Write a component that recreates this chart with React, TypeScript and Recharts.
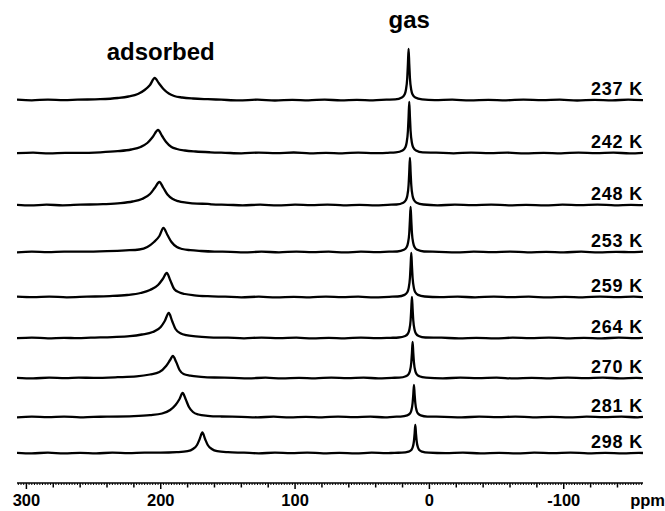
import React from 'react';
import { LineChart, Line, XAxis, YAxis, ReferenceDot } from 'recharts';

type Pt = [number, number];

// temperatures, top to bottom
const tempLabels = ['237 K', '242 K', '248 K', '253 K', '259 K', '264 K', '270 K', '281 K', '298 K'];

// ppm, intensity
const t237: Pt[] = [[307,0.3],[296,-0.3],[284,0.4],[272,-0.2],[262,0.3],[245,0.8],[232,2],[224,3.5],[217,6],[212,10],[208,15],[204.5,22],[201.5,17],[198,11],[194,6.5],[190,4],[184,2.5],[176,1.5],[165,0.8],[155,0.3],[142,-0.4],[128,0.3],[115,-0.5],[102,0.2],[90,-0.3],[78,0.4],[66,-0.4],[54,0.2],[42,-0.3],[32,0.3],[25.5,0.6],[20.5,2.5],[18.5,5.5],[17.5,10],[16.5,22],[16,36],[15.5,51],[15,36],[14.5,22],[13.5,10],[12.5,5.5],[10.5,2.5],[5.5,0.6],[-4,-0.2],[-17,0.3],[-30,-0.4],[-44,0.2],[-57,-0.3],[-70,0.4],[-84,-0.2],[-97,0.3],[-110,-0.5],[-123,0.2],[-136,-0.3],[-148,0.3],[-159,-0.2]];
const t242: Pt[] = [[307,-0.2],[295,0.3],[283,-0.4],[271,0.2],[262,0.2],[245,0.7],[232,1.8],[222,3.5],[215,6],[210,10],[206,16],[202,23],[199,17],[196,11],[192,6],[188,4],[182,2.5],[174,1.5],[163,0.7],[152,0.2],[140,-0.3],[127,0.4],[114,-0.2],[101,0.5],[89,-0.4],[77,0.2],[65,-0.3],[53,0.4],[41,-0.2],[31,0.2],[25,0.6],[20,2.5],[18,5.5],[17,10],[16,22],[15.5,36],[15,51],[14.5,36],[14,22],[13,10],[12,5.5],[10,2.5],[5,0.6],[-5,0.3],[-18,-0.3],[-31,0.4],[-45,-0.2],[-58,0.3],[-71,-0.4],[-85,0.2],[-98,-0.3],[-111,0.4],[-124,-0.2],[-137,0.3],[-149,-0.3],[-159,0.2]];
const t248: Pt[] = [[307,0.2],[297,-0.4],[285,0.3],[273,-0.3],[260,0.3],[243,0.8],[230,1.8],[221,3.5],[214,6],[208,11],[204.5,17],[201,23],[198,17],[195,10.5],[191,6],[187,3.8],[181,2.3],[173,1.3],[165,1.2],[162,0.6],[150,0.2],[139,-0.3],[126,0.3],[113,-0.4],[100,0.3],[88,-0.2],[76,0.4],[64,-0.3],[52,0.2],[40,-0.4],[31,0.2],[24.5,0.5],[19.5,2.3],[17.5,5],[16.5,9],[15.5,20],[15,33],[14.5,47],[14,33],[13.5,20],[12.5,9],[11.5,5],[9.5,2.3],[4.5,0.5],[-6,-0.3],[-19,0.3],[-32,-0.2],[-46,0.4],[-59,-0.3],[-72,0.2],[-86,-0.4],[-99,0.3],[-112,-0.2],[-125,0.4],[-138,-0.3],[-150,0.2],[-159,-0.2]];
const t253: Pt[] = [[307,-0.3],[296,0.3],[284,-0.2],[272,0.4],[258,0.3],[240,0.8],[226,1.6],[216,2.5],[210,5],[205,10],[201,16],[198,24],[195,17],[192,10],[188,5],[184,3],[178,1.8],[170,1],[160,0.4],[148,0.2],[138,-0.4],[125,0.3],[112,-0.3],[99,0.4],[87,-0.2],[75,0.3],[63,-0.4],[51,0.3],[39,-0.2],[30,0.3],[24,0.5],[19,2.2],[17,4.8],[16,8.8],[15,19],[14.5,32],[14,45],[13.5,32],[13,19],[12,8.8],[11,4.8],[9,2.2],[4,0.5],[-7,0.2],[-20,-0.4],[-33,0.3],[-47,-0.2],[-60,0.4],[-73,-0.3],[-87,0.2],[-100,-0.3],[-113,0.3],[-126,-0.4],[-139,0.2],[-151,-0.2],[-159,0.3]];
const t259: Pt[] = [[307,0.3],[295,-0.2],[283,0.4],[270,-0.3],[255,0.3],[238,0.9],[225,2],[215,4],[208,7],[202,12],[198.5,18],[195.5,24],[193,17],[190,8],[186,4.5],[182,3],[175,1.7],[165,0.8],[152,0.3],[140,-0.3],[127,0.3],[114,-0.4],[101,0.2],[89,-0.3],[77,0.4],[65,-0.2],[53,0.3],[41,-0.4],[30,0.2],[23.5,0.5],[18.5,2.1],[16.5,4.7],[15.5,8.6],[14.5,19],[14,31],[13.5,44],[13,31],[12.5,19],[11.5,8.6],[10.5,4.7],[8.5,2.1],[3.5,0.5],[-8,-0.2],[-21,0.3],[-34,-0.3],[-48,0.4],[-61,-0.2],[-74,0.3],[-88,-0.4],[-101,0.2],[-114,-0.3],[-127,0.4],[-140,-0.2],[-152,0.3],[-159,-0.2]];
const t264: Pt[] = [[307,-0.2],[296,0.4],[284,-0.3],[272,0.2],[262,-0.2],[252,0.3],[236,0.9],[223,1.8],[214,3.5],[206,6],[200,11],[197,17],[194,25],[191.5,17],[189,9],[185,4.5],[181,2.8],[174,1.6],[164,0.7],[150,0.3],[138,-0.3],[125,0.4],[112,-0.2],[99,0.3],[87,-0.4],[75,0.2],[63,-0.3],[51,0.4],[39,-0.2],[29,0.2],[23,0.5],[18,2],[16,4.4],[15,8],[14,17.5],[13.5,29],[13,41],[12.5,29],[12,17.5],[11,8],[10,4.4],[8,2],[3,0.5],[-9,0.3],[-22,-0.3],[-35,0.2],[-49,-0.4],[-62,0.3],[-75,-0.2],[-89,0.4],[-102,-0.3],[-115,0.2],[-128,-0.3],[-141,0.3],[-153,-0.2],[-159,0.2]];
const t270: Pt[] = [[307,0.2],[295,-0.3],[283,0.3],[271,-0.2],[261,0.3],[250,0.2],[232,0.8],[218,1.6],[208,3.5],[201,6],[196,12],[193,18],[191,22],[188.5,16],[186,8],[183,4],[178,2.3],[170,1.2],[160,0.5],[146,0.2],[135,-0.3],[122,0.3],[110,-0.4],[97,0.2],[85,-0.3],[73,0.4],[61,-0.2],[49,0.3],[38,-0.3],[28,0.2],[22.5,0.4],[17.5,1.8],[15.5,3.9],[14.5,7],[13.5,15.5],[13,25],[12.5,36],[12,25],[11.5,15.5],[10.5,7],[9.5,3.9],[7.5,1.8],[2.5,0.4],[-10,-0.3],[-23,0.3],[-36,-0.2],[-50,0.3],[-63,-0.4],[-76,0.2],[-90,-0.3],[-103,0.4],[-116,-0.2],[-129,0.3],[-142,-0.3],[-154,0.2],[-159,-0.2]];
const t281: Pt[] = [[307,-0.3],[296,0.3],[284,-0.2],[272,0.4],[260,-0.3],[250,0.2],[240,0.3],[220,0.8],[208,1.8],[199,3.5],[193,7],[189,12],[186,18],[183.7,24],[181.5,18],[179,10],[176,5],[172,2.5],[165,1.2],[155,0.5],[140,0.2],[128,-0.3],[116,0.3],[104,-0.4],[92,0.2],[80,-0.3],[68,0.4],[56,-0.2],[44,0.3],[33,-0.3],[27,0.2],[21.5,0.4],[16.5,1.6],[14.5,3.5],[13.5,6.3],[12.5,14],[12,22.5],[11.5,32],[11,22.5],[10.5,14],[9.5,6.3],[8.5,3.5],[6.5,1.6],[1.5,0.4],[-11,0.2],[-24,-0.3],[-37,0.3],[-51,-0.2],[-64,0.4],[-77,-0.3],[-91,0.2],[-104,-0.4],[-117,0.3],[-130,-0.2],[-143,0.3],[-155,-0.3],[-159,0.2]];
const t298: Pt[] = [[307,0.2],[296,-0.3],[284,0.3],[272,-0.4],[260,0.2],[248,-0.3],[236,0.3],[224,-0.2],[212,0.3],[200,0.3],[188,0.8],[180,1.8],[176,4],[173,8],[171,14],[169,20.5],[167,14],[165,8],[162,4],[158,1.8],[150,0.8],[138,0.3],[127,-0.3],[115,0.3],[103,-0.2],[91,0.4],[79,-0.3],[67,0.2],[55,-0.4],[43,0.3],[32,-0.2],[26,0.2],[20.5,0.3],[15.5,1.4],[13.5,3],[12.5,5.5],[11.5,12],[11,19.5],[10.5,28],[10,19.5],[9.5,12],[8.5,5.5],[7.5,3],[5.5,1.4],[0.5,0.3],[-12,-0.2],[-25,0.3],[-38,-0.3],[-52,0.2],[-65,-0.4],[-78,0.3],[-92,-0.2],[-105,0.4],[-118,-0.3],[-131,0.2],[-144,-0.3],[-156,0.2],[-159,0]];

const spectra = [t237, t242, t248, t253, t259, t264, t270, t281, t298];

// vertical stacking offset of each spectrum
const stackOffsets = [383, 330, 278, 231, 186, 145, 105, 66, 30];

const majorTicks = [300, 200, 100, 0, -100];

const X_MIN = -159;
const X_MAX = 307;
const FONT = '"Liberation Sans", Arial, Helvetica, sans-serif';

const minorTicks: number[] = [];
for (let v = -158; v <= 306; v += 2) minorTicks.push(v);

const PpmTick = (props: any) => {
  const { x, y, payload } = props;
  const v = payload.value;
  const len = v % 100 === 0 ? 6 : v % 20 === 0 ? 4.5 : 2;
  return (
    <g>
      <line x1={x} x2={x} y1={y} y2={y + len} stroke="#000" strokeWidth={len > 2 ? 1.5 : 1} />
      {majorTicks.includes(v) && (
        <text x={x} y={y + 23} textAnchor="middle" fontFamily={FONT} fontWeight="bold" fontSize={16.5} fill="#000">
          {v}
        </text>
      )}
    </g>
  );
};

const textShape = (text: string, size: number, anchor: string, spacing = 0) => (p: any) => (
  <text x={p.cx} y={p.cy} textAnchor={anchor} fontFamily={FONT} fontWeight="bold" fontSize={size} letterSpacing={spacing} fill="#000">
    {text}
  </text>
);

export default function App() {
  return (
    <div style={{ position: 'absolute', left: 0, top: 0, background: '#fff' }}>
      <LineChart width={665} height={511} margin={{ top: 0, right: 22, bottom: 0, left: 17 }}>
        <XAxis
          type="number"
          dataKey="x"
          domain={[X_MIN, X_MAX]}
          reversed
          allowDataOverflow
          ticks={minorTicks}
          interval={0}
          tickSize={0}
          tickMargin={0}
          tickLine={false}
          tick={<PpmTick />}
          axisLine={{ stroke: '#000', strokeWidth: 1.5 }}
          height={28}
          label={{
            content: (p: any) => (
              <text x={p.viewBox.x + p.viewBox.width + 22} y={p.viewBox.y + 23} textAnchor="end" fontFamily={FONT} fontWeight="bold" fontSize={16.5} fill="#000">
                ppm
              </text>
            ),
          }}
        />
        <YAxis type="number" domain={[0, 483]} hide allowDataOverflow />
        {spectra.map((pts, i) => (
          <Line
            key={tempLabels[i]}
            data={pts.map(([x, y]) => ({ x, y: y + stackOffsets[i] }))}
            dataKey="y"
            type="monotoneX"
            stroke="#000"
            strokeWidth={2.3}
            dot={false}
            isAnimationActive={false}
          />
        ))}
        {tempLabels.map((t, i) => (
          <ReferenceDot key={'lab' + t} x={X_MIN} y={stackOffsets[i] + 5} r={0} ifOverflow="visible" shape={textShape(t, 18, 'end', 0.8)} />
        ))}
        <ReferenceDot x={200} y={423} r={0} ifOverflow="visible" shape={textShape('adsorbed', 24, 'middle')} />
        <ReferenceDot x={15} y={455} r={0} ifOverflow="visible" shape={textShape('gas', 24, 'middle')} />
      </LineChart>
    </div>
  );
}
